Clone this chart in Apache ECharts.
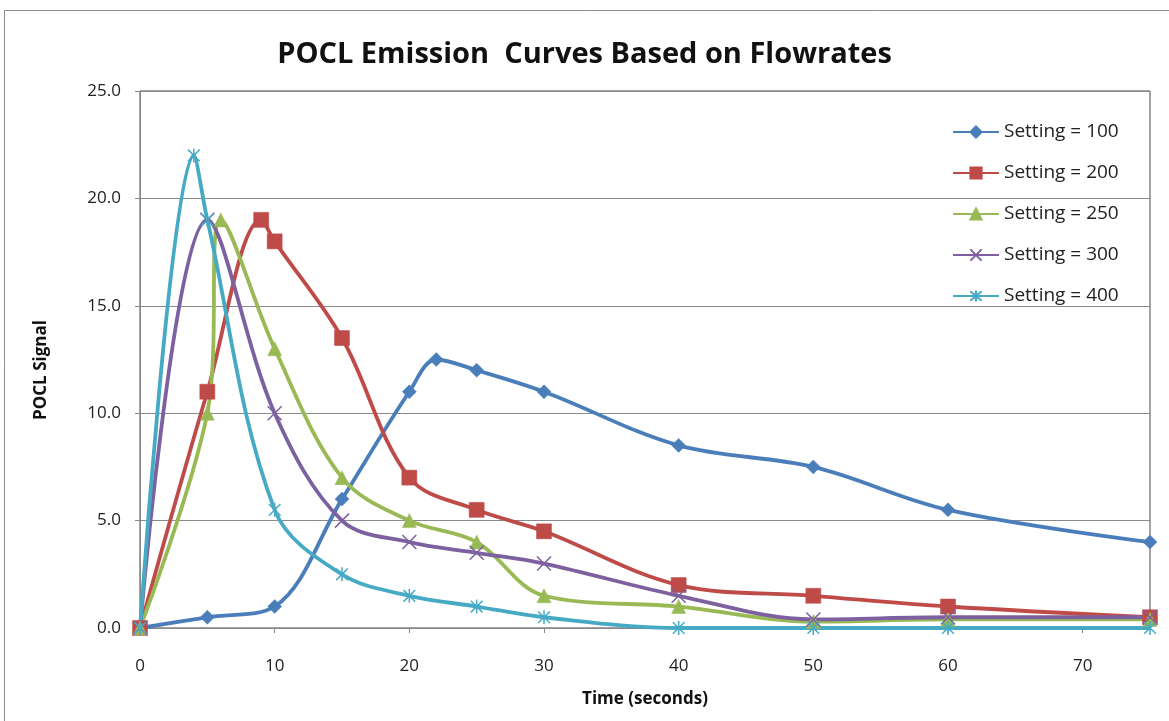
<!DOCTYPE html>
<html>
<head>
<meta charset="utf-8">
<title>POCL Emission Curves Based on Flowrates</title>
<script src="https://cdn.jsdelivr.net/npm/echarts@6/dist/echarts.min.js"></script>
<style>
  html, body { margin: 0; padding: 0; background: #ffffff; }
  #chart { width: 1169px; height: 721px; }
</style>
</head>
<body>
<div id="chart"></div>
<script>
// Time (s) and POCL signal for each flowrate setting
const time100 = [0, 5, 10, 15, 20, 22, 25, 30, 40, 50, 60, 75];
const signal100 = [0, 0.5, 1.0, 6.0, 11.0, 12.5, 12.0, 11.0, 8.5, 7.5, 5.5, 4.0];

const time200 = [0, 5, 9, 10, 15, 20, 25, 30, 40, 50, 60, 75];
const signal200 = [0, 11.0, 19.0, 18.0, 13.5, 7.0, 5.5, 4.5, 2.0, 1.5, 1.0, 0.5];

const time250 = [0, 5, 6, 10, 15, 20, 25, 30, 40, 50, 60, 75];
const signal250 = [0, 10.0, 19.0, 13.0, 7.0, 5.0, 4.0, 1.5, 1.0, 0.3, 0.4, 0.4];

const time300 = [0, 5, 10, 15, 20, 25, 30, 40, 50, 60, 75];
const signal300 = [0, 19.0, 10.0, 5.0, 4.0, 3.5, 3.0, 1.5, 0.4, 0.5, 0.5];

const time400 = [0, 4, 5, 10, 15, 20, 25, 30, 40, 50, 60, 75];
const signal400 = [0, 22.0, 19.0, 5.5, 2.5, 1.5, 1.0, 0.5, 0, 0, 0, 0];

const seriesNames = ['Setting = 100', 'Setting = 200', 'Setting = 250', 'Setting = 300', 'Setting = 400'];
const xTicks = [0, 10, 20, 30, 40, 50, 60, 70];
const yTicks = [0, 5, 10, 15, 20, 25];

const colors = ['#4a7ebb', '#be4b48', '#98b954', '#7d60a0', '#46aac5'];
const FONT = '"Open Sans", Lato, sans-serif';

const crossPath = 'path://M0,0L10,10M10,0L0,10';
const starPath = 'path://M0,0L10,10M10,0L0,10M5,-1L5,11';

function pairs(xs, ys) {
  return xs.map((x, i) => [x, ys[i]]);
}

function lineSeries(name, xs, ys, color, symbol, size, strokeOnly) {
  return {
    name: name,
    type: 'line',
    smooth: 0.35,
    data: pairs(xs, ys),
    symbol: symbol,
    symbolSize: size,
    symbolKeepAspect: true,
    showAllSymbol: true,
    lineStyle: { color: color, width: 3.8 },
    itemStyle: strokeOnly
      ? { color: 'rgba(0,0,0,0)', borderColor: color, borderWidth: 1.5 }
      : { color: color, borderColor: color, borderWidth: 0.5 },
    emphasis: { disabled: true },
    animation: false
  };
}

const chart = echarts.init(document.getElementById('chart'), null, { renderer: 'canvas' });

chart.setOption({
  backgroundColor: '#ffffff',
  animation: false,
  color: colors,
  title: {
    text: 'POCL Emission  Curves Based on Flowrates',
    left: 'center',
    top: 35,
    textStyle: { fontFamily: FONT, fontWeight: 'bold', fontSize: 29, color: '#111' }
  },
  graphic: [
    {
      type: 'rect',
      shape: { x: 4.5, y: 10.5, width: 1200, height: 800 },
      style: { fill: 'none', stroke: '#8c8c8c', lineWidth: 1 },
      silent: true
    },
    {
      type: 'text',
      x: 41,
      y: 370,
      rotation: Math.PI / 2,
      style: {
        text: 'POCL Signal',
        fontFamily: FONT,
        fontWeight: 'bold',
        fontSize: 17,
        fill: '#111',
        align: 'center',
        verticalAlign: 'middle'
      },
      silent: true
    }
  ],
  legend: {
    orient: 'vertical',
    left: 947,
    top: 117,
    itemWidth: 46,
    itemHeight: 14,
    itemGap: 21,
    data: seriesNames,
    textStyle: { fontFamily: FONT, fontSize: 19, lineHeight: 20, color: '#222' }
  },
  grid: {
    left: 140,
    right: 19,
    top: 91,
    bottom: 93,
    show: true,
    borderColor: '#444',
    borderWidth: 1,
    backgroundColor: 'transparent'
  },
  xAxis: {
    type: 'value',
    min: 0,
    max: 75,
    interval: 10,
    name: 'Time (seconds)',
    nameLocation: 'middle',
    nameGap: 63,
    nameTextStyle: { fontFamily: FONT, fontWeight: 'bold', fontSize: 17, color: '#111' },
    axisLine: { show: true, lineStyle: { color: '#888', width: 1 } },
    axisTick: { show: true, inside: false, length: 5, lineStyle: { color: '#888' } },
    axisLabel: {
      showMaxLabel: false,
      margin: 30,
      fontFamily: FONT,
      fontSize: 17,
      color: '#222',
      formatter: v => (xTicks.includes(v) ? String(v) : '')
    },
    splitLine: { show: false }
  },
  yAxis: {
    type: 'value',
    min: 0,
    max: 25,
    interval: 5,
    axisLine: { show: true, lineStyle: { color: '#888', width: 1 } },
    axisTick: { show: true, inside: false, length: 5, lineStyle: { color: '#888' } },
    axisLabel: {
      margin: 19,
      fontFamily: FONT,
      fontSize: 17,
      color: '#222',
      formatter: v => (yTicks.includes(v) ? v.toFixed(1) : '')
    },
    splitLine: { show: true, lineStyle: { color: '#8a8a8a', width: 1 } }
  },
  series: [
    lineSeries(seriesNames[0], time100, signal100, colors[0], 'diamond', 14, false),
    lineSeries(seriesNames[1], time200, signal200, colors[1], 'rect', 15, false),
    lineSeries(seriesNames[2], time250, signal250, colors[2], 'triangle', 14, false),
    lineSeries(seriesNames[3], time300, signal300, colors[3], crossPath, 14, true),
    lineSeries(seriesNames[4], time400, signal400, colors[4], starPath, 14, true)
  ]
});
</script>
</body>
</html>
